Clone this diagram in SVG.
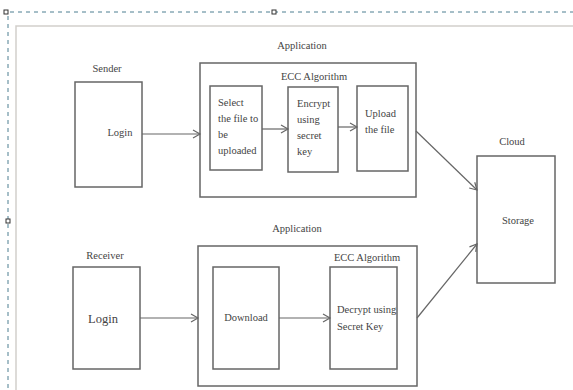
<svg xmlns="http://www.w3.org/2000/svg" width="573" height="390" viewBox="0 0 573 390">
<defs>
<marker id="arr" markerWidth="10" markerHeight="10" refX="8" refY="5" orient="auto" markerUnits="userSpaceOnUse">
<path d="M1,1 L8,5 L1,9" fill="none" stroke="#666" stroke-width="1.2"/>
</marker>
<style>
.box{fill:#fff;stroke:#666;stroke-width:1.5}
.t{font-family:"Liberation Serif","Times New Roman",serif;font-size:10.5px;fill:#444}
.c{text-anchor:middle}
.ln{stroke:#666;stroke-width:1.2;fill:none;marker-end:url(#arr)}
.dash{stroke:#4d7f91;stroke-width:1;stroke-dasharray:4,4;fill:none}
.h{fill:#fff;stroke:#333;stroke-width:1}
</style>
</defs>
<rect width="573" height="390" fill="#fff"/>
<g id="frame">
<path d="M16,390 V26 H573" fill="none" stroke="#d2cfcb" stroke-width="1.5"/>
<line class="dash" x1="10" y1="12" x2="573" y2="12"/>
<line class="dash" x1="8" y1="16" x2="8" y2="390"/>
<rect class="h" x="4" y="10" width="4" height="4"/>
<rect class="h" x="272" y="10" width="4" height="4"/>
<rect class="h" x="6" y="219" width="4" height="4"/>
</g>
<g id="sender">
<text class="t c" x="107" y="72">Sender</text>
<rect class="box" x="75" y="82" width="67" height="105"/>
<text class="t c" x="120" y="136">Login</text>
</g>
<g id="app1">
<text class="t c" x="302" y="49">Application</text>
<rect class="box" x="200" y="63" width="216" height="134"/>
<text class="t c" x="314" y="80">ECC Algorithm</text>
</g>
<g id="select">
<rect class="box" x="210" y="86" width="52" height="84"/>
<text class="t" x="218" y="106">Select</text>
<text class="t" x="218" y="122">the file to</text>
<text class="t" x="218" y="138">be</text>
<text class="t" x="218" y="154">uploaded</text>
</g>
<g id="encrypt">
<rect class="box" x="288" y="87" width="50" height="85"/>
<text class="t" x="297" y="107">Encrypt</text>
<text class="t" x="297" y="123">using</text>
<text class="t" x="297" y="139">secret</text>
<text class="t" x="297" y="155">key</text>
</g>
<g id="upload">
<rect class="box" x="357" y="86" width="51" height="85"/>
<text class="t" x="365" y="117">Upload</text>
<text class="t" x="365" y="133">the file</text>
</g>
<g id="cloud">
<text class="t c" x="512" y="145">Cloud</text>
<rect class="box" x="477" y="156" width="78" height="127"/>
<text class="t c" x="518" y="224">Storage</text>
</g>
<g id="receiver">
<text class="t c" x="105" y="259">Receiver</text>
<rect class="box" x="73" y="267" width="67" height="102"/>
<text class="t c" x="103" y="323" style="font-size:12.5px">Login</text>
</g>
<g id="app2">
<text class="t c" x="297" y="232">Application</text>
<rect class="box" x="198" y="246" width="219" height="140"/>
<text class="t c" x="367" y="261">ECC Algorithm</text>
</g>
<g id="download">
<rect class="box" x="213" y="267" width="66" height="102"/>
<text class="t c" x="246" y="321">Download</text>
</g>
<g id="decrypt">
<rect class="box" x="330" y="267" width="67" height="102"/>
<text class="t" x="337" y="313">Decrypt using</text>
<text class="t" x="337" y="330">Secret Key</text>
</g>
<g id="connectors">
<line class="ln" x1="142" y1="134" x2="200" y2="134"/>
<line class="ln" x1="262" y1="129" x2="288" y2="129"/>
<line class="ln" x1="338" y1="127" x2="357" y2="127"/>
<line class="ln" x1="416" y1="131" x2="477" y2="190"/>
<line class="ln" x1="140" y1="318" x2="198" y2="318"/>
<line class="ln" x1="279" y1="318" x2="330" y2="318"/>
<line class="ln" x1="417" y1="318" x2="477" y2="244"/>
</g>
</svg>
